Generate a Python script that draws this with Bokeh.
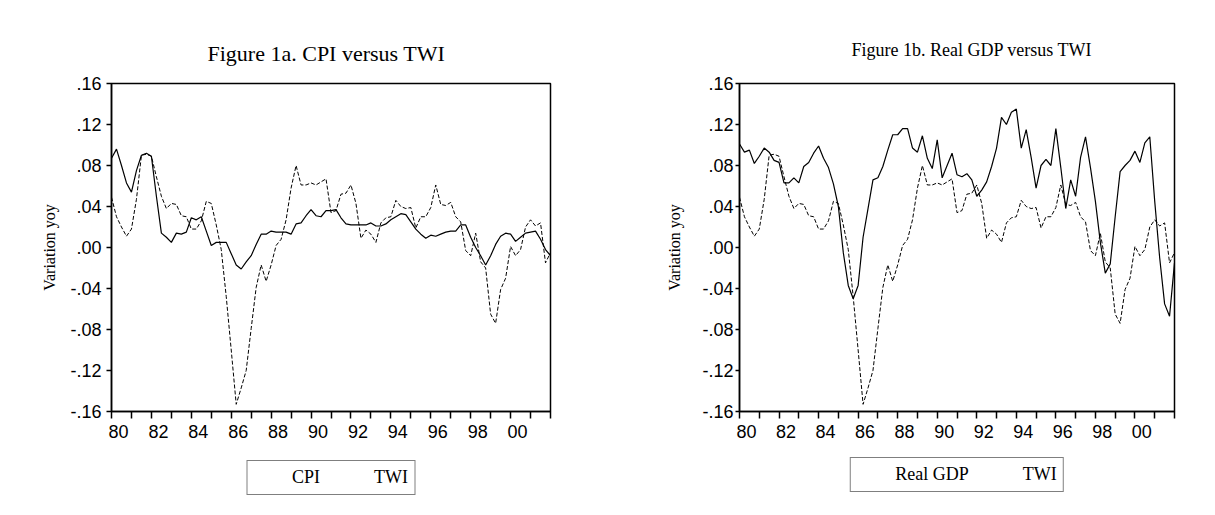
from bokeh.plotting import figure
from bokeh.models import Range1d, FixedTicker, Legend, LegendItem, CustomJSTickFormatter
from bokeh.layouts import gridplot
from bokeh.embed import file_html
from bokeh.resources import INLINE

# quarterly observations 1980Q1 .. 2002Q1
start_year = 1980
n_quarters = 89
quarters = [start_year + 0.25 * i for i in range(n_quarters)]

cpi = [0.087, 0.096, 0.080, 0.063, 0.054, 0.075, 0.090, 0.092, 0.089, 0.050,
       0.014, 0.010, 0.005, 0.014, 0.013, 0.015, 0.029, 0.027, 0.030, 0.016,
       0.002, 0.005, 0.005, 0.005, -0.006, -0.017, -0.021, -0.014, -0.008, 0.003,
       0.013, 0.013, 0.016, 0.015, 0.015, 0.015, 0.013, 0.023, 0.024, 0.031,
       0.037, 0.031, 0.030, 0.036, 0.036, 0.037, 0.029, 0.023, 0.022, 0.022,
       0.022, 0.022, 0.024, 0.021, 0.021, 0.023, 0.027, 0.030, 0.033, 0.032,
       0.025, 0.018, 0.013, 0.009, 0.012, 0.011, 0.013, 0.015, 0.016, 0.016,
       0.022, 0.022, 0.010, 0.000, -0.008, -0.017, -0.008, 0.003, 0.011, 0.014,
       0.013, 0.006, 0.010, 0.014, 0.015, 0.016, 0.008, -0.002, -0.008]

twi = [0.049, 0.030, 0.020, 0.011, 0.018, 0.047, 0.090, 0.091, 0.089, 0.069,
       0.050, 0.038, 0.043, 0.042, 0.031, 0.030, 0.018, 0.018, 0.026, 0.045,
       0.043, 0.022, -0.002, -0.048, -0.100, -0.153, -0.137, -0.120, -0.079, -0.039,
       -0.017, -0.033, -0.017, 0.002, 0.008, 0.027, 0.058, 0.080, 0.061, 0.061,
       0.063, 0.061, 0.064, 0.067, 0.034, 0.036, 0.052, 0.053, 0.061, 0.043,
       0.009, 0.017, 0.013, 0.005, 0.024, 0.029, 0.030, 0.046, 0.040, 0.038,
       0.039, 0.019, 0.030, 0.030, 0.039, 0.061, 0.042, 0.041, 0.044, 0.030,
       0.025, -0.003, -0.008, 0.014, -0.014, -0.020, -0.065, -0.074, -0.041, -0.030,
       0.001, -0.008, -0.002, 0.020, 0.027, 0.021, 0.024, -0.015, -0.005]

real_gdp = [0.101, 0.093, 0.095, 0.082, 0.089, 0.097, 0.093, 0.085, 0.083, 0.063,
            0.063, 0.068, 0.063, 0.079, 0.083, 0.092, 0.099, 0.087, 0.078, 0.062,
            0.040, -0.005, -0.037, -0.050, -0.037, 0.010, 0.038, 0.066, 0.068, 0.079,
            0.095, 0.110, 0.110, 0.116, 0.116, 0.097, 0.093, 0.109, 0.087, 0.077,
            0.105, 0.068, 0.080, 0.092, 0.071, 0.069, 0.072, 0.066, 0.050, 0.056,
            0.064, 0.079, 0.097, 0.127, 0.120, 0.132, 0.135, 0.097, 0.115, 0.088,
            0.058, 0.080, 0.086, 0.080, 0.116, 0.078, 0.038, 0.066, 0.050, 0.088,
            0.108, 0.078, 0.045, 0.005, -0.025, -0.016, 0.030, 0.074, 0.080, 0.085,
            0.094, 0.083, 0.102, 0.108, 0.045, -0.010, -0.055, -0.067, -0.015]

y_ticks = [-0.16, -0.12, -0.08, -0.04, 0.0, 0.04, 0.08, 0.12, 0.16]
y_tick_labels = ["-.16", "-.12", "-.08", "-.04", ".00", ".04", ".08", ".12", ".16"]
year_ticks = list(range(1980, 2003))
x_label_years = [1980, 1982, 1984, 1986, 1988, 1990, 1992, 1994, 1996, 1998, 2000]
x_tick_labels = ["80", "82", "84", "86", "88", "90", "92", "94", "96", "98", "00"]

SERIF = "Liberation Serif"
SANS = "Liberation Sans"
LABEL_SHIFT = 0.35  # year labels sit slightly right of the year tick
MAIN_HEIGHT = 455
LEGEND_HEIGHT = 44

LOOKUP = """
let best = 0;
for (let i = 1; i < tv.length; i++) {
  if (Math.abs(tv[i] - tick) < Math.abs(tv[best] - tick)) { best = i; }
}
return tl[best];
"""

MAIN_STYLE = dict(line_color="black", line_width=1.2)
TWI_STYLE = dict(line_color="black", line_width=1.0, line_dash="4 2")


def make_panel(title, title_size, title_offset, title_standoff, main_vals,
               width, border_lr, tick_out, tick_standoff, ylab_standoff):
    p = figure(width=width, height=MAIN_HEIGHT, output_backend="svg", toolbar_location=None,
               x_range=Range1d(1980, 2002), y_range=Range1d(-0.16, 0.16),
               min_border_left=border_lr[0], min_border_right=border_lr[1],
               min_border_top=83, min_border_bottom=44)
    p.grid.visible = False
    p.outline_line_color = "black"
    p.outline_line_width = 1.5
    p.outline_line_alpha = 1.0

    p.title.text = title
    p.title.text_font = SERIF
    p.title.text_font_size = title_size
    p.title.text_font_style = "normal"
    p.title.text_color = "black"
    p.title.align = "left"
    p.title.offset = title_offset
    p.title.standoff = title_standoff

    label_pos = [y + LABEL_SHIFT for y in x_label_years]
    xa = p.xaxis[0]
    xa.ticker = FixedTicker(ticks=label_pos, minor_ticks=year_ticks)
    xa.formatter = CustomJSTickFormatter(args=dict(tv=label_pos, tl=x_tick_labels), code=LOOKUP)
    xa.major_tick_line_color = None
    xa.major_tick_out = 0
    xa.major_tick_in = 0
    xa.minor_tick_line_color = "black"
    xa.minor_tick_line_width = 1.5
    xa.minor_tick_out = 7
    xa.minor_tick_in = 0
    xa.major_label_standoff = 6
    xa.major_label_text_font = SANS
    xa.major_label_text_font_size = "18px"
    xa.major_label_text_color = "black"
    xa.axis_line_color = "black"
    xa.axis_line_width = 1.5

    ya = p.yaxis[0]
    ya.ticker = FixedTicker(ticks=y_ticks)
    ya.formatter = CustomJSTickFormatter(args=dict(tv=y_ticks, tl=y_tick_labels), code=LOOKUP)
    ya.major_tick_line_color = "black"
    ya.major_tick_line_width = 1.5
    ya.major_tick_out = tick_out
    ya.major_tick_in = 0
    ya.minor_tick_line_color = None
    ya.major_label_standoff = tick_standoff
    ya.major_label_text_font = SANS
    ya.major_label_text_font_size = "18px"
    ya.major_label_text_color = "black"
    ya.axis_line_color = "black"
    ya.axis_line_width = 1.5
    ya.axis_label = "Variation yoy"
    ya.axis_label_text_font = SERIF
    ya.axis_label_text_font_size = "16px"
    ya.axis_label_text_font_style = "normal"
    ya.axis_label_text_color = "black"
    ya.axis_label_standoff = ylab_standoff

    p.line(quarters, main_vals, **MAIN_STYLE)
    p.line(quarters, twi, **TWI_STYLE)
    return p


def make_legend(main_label, width, border_lr, legend_margin):
    lg = figure(width=width, height=LEGEND_HEIGHT, output_backend="svg", toolbar_location=None,
                title=None, x_range=Range1d(0, 1), y_range=Range1d(0, 1),
                x_axis_location=None, y_axis_location=None,
                min_border_left=border_lr[0], min_border_right=border_lr[1],
                min_border_top=0, min_border_bottom=0)
    lg.outline_line_color = None
    lg.grid.visible = False
    # legend keys only: these renderers carry the series styles, not data
    r_main = lg.line(x=[], y=[], **MAIN_STYLE)
    r_twi = lg.line(x=[], y=[], **TWI_STYLE)
    legend = Legend(items=[LegendItem(label=main_label, renderers=[r_main]),
                           LegendItem(label="TWI", renderers=[r_twi])],
                    orientation="horizontal", location="top_center",
                    label_text_font=SERIF, label_text_font_size="18px",
                    label_text_color="black",
                    glyph_width=31, glyph_height=18, label_height=18,
                    label_standoff=8, spacing=15, padding=6, margin=legend_margin,
                    border_line_color="black", border_line_width=1,
                    background_fill_color="white", background_fill_alpha=1.0)
    lg.add_layout(legend)
    return lg


p1 = make_panel("Figure 1a. CPI versus TWI", "22px", 96, 36, cpi,
                612, (111, 62), 5, 5, 9)
p2 = make_panel("Figure 1b. Real GDP versus TWI", "18px", 112, 48, real_gdp,
                587, (127, 25), 4, 2, 16)
l1 = make_legend("CPI", 612, (111, 62), 5)
l2 = make_legend("Real GDP", 587, (127, 25), 2)

layout = gridplot([[p1, p2], [l1, l2]], toolbar_location=None)

with open("out.html", "w") as f:
    f.write(file_html(layout, INLINE))
